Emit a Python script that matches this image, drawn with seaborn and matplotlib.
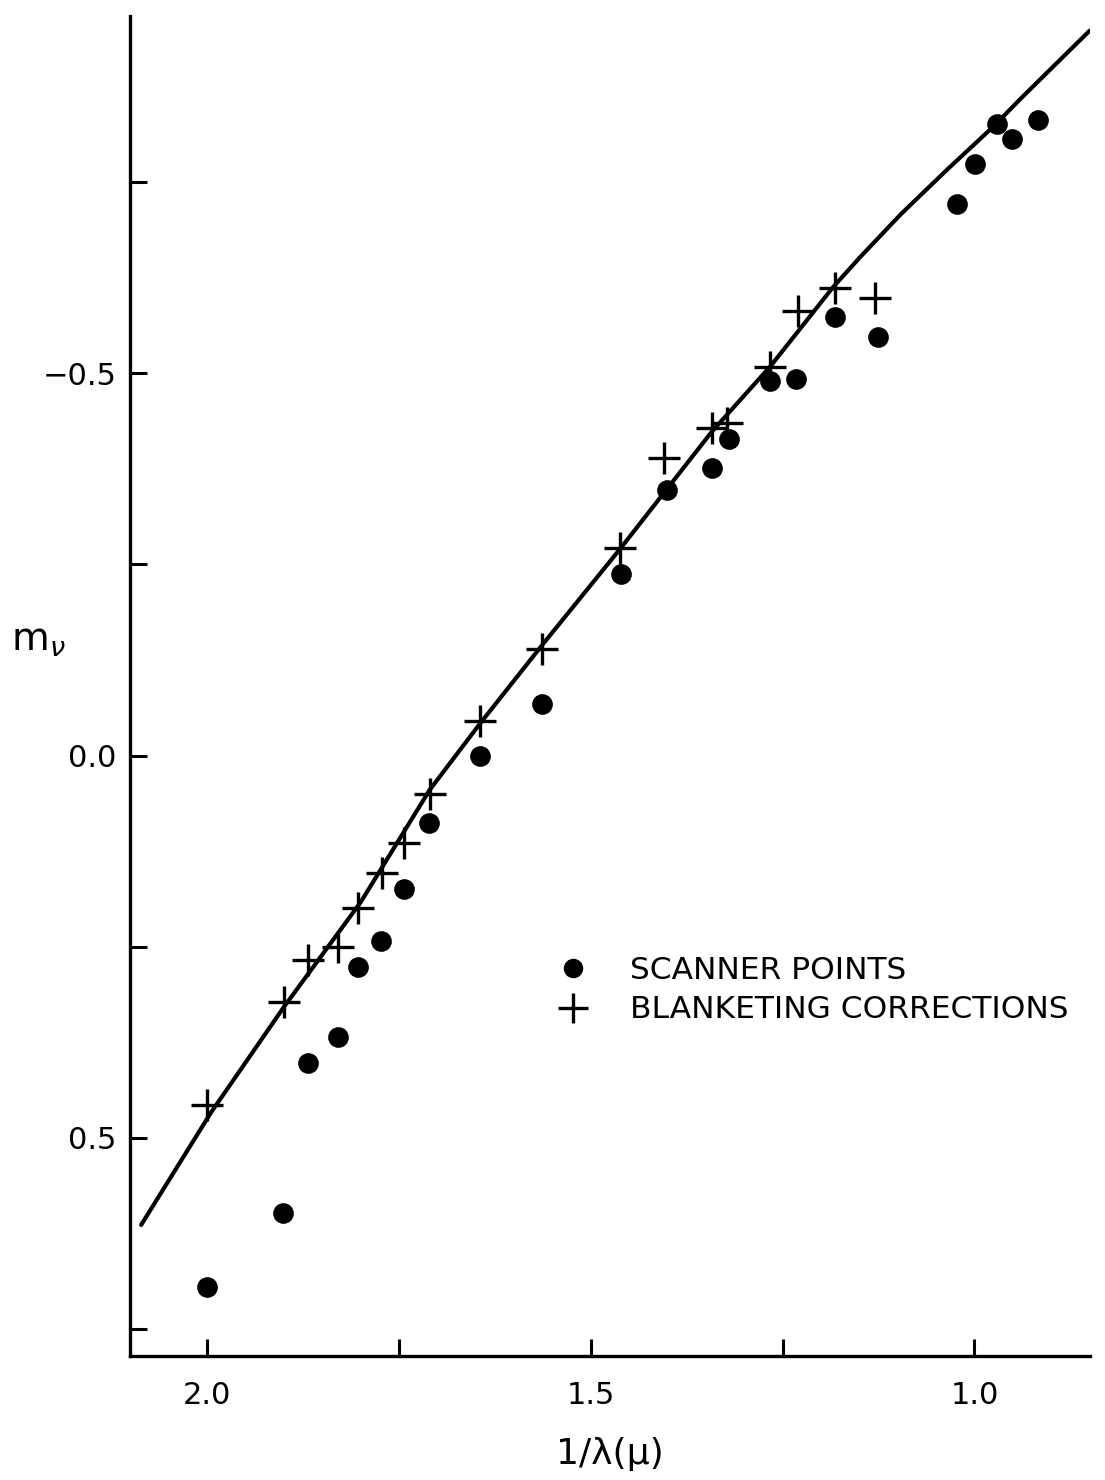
import numpy as np
import pandas as pd
import matplotlib
matplotlib.use('Agg')
import matplotlib.pyplot as plt
import seaborn as sns
from matplotlib.ticker import FixedLocator
from matplotlib.lines import Line2D

# scanner points (1/lambda, m_nu)
scan_x = [2.000, 1.901, 1.868, 1.829, 1.803, 1.773, 1.743, 1.711, 1.645, 1.564,
          1.461, 1.401, 1.342, 1.320, 1.267, 1.232, 1.182, 1.126, 1.023, 0.999,
          0.970, 0.951, 0.917]
scan_y = [0.695, 0.598, 0.402, 0.368, 0.276, 0.243, 0.174, 0.088, 0.001, -0.067,
          -0.237, -0.347, -0.376, -0.414, -0.490, -0.493, -0.573, -0.548, -0.721, -0.774,
          -0.826, -0.806, -0.831]

# blanketing corrections
blank_x = [2.000, 1.900, 1.868, 1.829, 1.803, 1.772, 1.743, 1.710, 1.645, 1.563,
           1.462, 1.404, 1.342, 1.322, 1.267, 1.230, 1.182, 1.129]
blank_y = [0.457, 0.322, 0.267, 0.251, 0.199, 0.153, 0.114, 0.050, -0.045, -0.139,
           -0.272, -0.389, -0.429, -0.435, -0.508, -0.581, -0.611, -0.599]

# drawn curve
curve_x = [2.086, 1.995, 1.900, 1.800, 1.710, 1.645, 1.563, 1.462, 1.342, 1.266,
           1.184, 1.148, 1.096, 1.035, 0.975, 0.940, 0.850]
curve_y = [0.614, 0.467, 0.329, 0.192, 0.045, -0.041, -0.145, -0.270, -0.424, -0.509,
           -0.613, -0.653, -0.708, -0.767, -0.823, -0.859, -0.948]

scan = pd.DataFrame({'x': scan_x, 'y': scan_y})
blank = pd.DataFrame({'x': blank_x, 'y': blank_y})
curve = pd.DataFrame({'x': curve_x, 'y': curve_y})

sns.set_style('ticks')
plt.rcParams['font.family'] = ['DejaVu Sans']
plt.rcParams['text.color'] = 'black'
plt.rcParams['axes.labelcolor'] = 'black'

fig = plt.figure(figsize=(11.05, 14.8), dpi=100)
ax = fig.add_axes([0.118, 0.084, 0.868, 0.905])

sns.lineplot(data=curve, x='x', y='y', sort=False, color='black', linewidth=3, ax=ax)
sns.scatterplot(data=scan, x='x', y='y', marker='o', s=190, color='black',
                edgecolor='black', ax=ax)
sns.scatterplot(data=blank, x='x', y='y', marker='+', s=520, color='black',
                linewidth=2.4, ax=ax)

ax.set_xlim(2.1, 0.85)
ax.set_ylim(0.785, -0.967)

ax.xaxis.set_major_locator(FixedLocator([2.0, 1.5, 1.0]))
ax.xaxis.set_minor_locator(FixedLocator([1.75, 1.25]))
ax.yaxis.set_major_locator(FixedLocator([-0.5, 0.0, 0.5]))
ax.yaxis.set_minor_locator(FixedLocator([-0.75, -0.25, 0.25, 0.75]))
ax.set_xticklabels(['2.0', '1.5', '1.0'])
ax.set_yticklabels(['\u22120.5', '0.0', '0.5'])

ax.tick_params(which='both', direction='in', length=12, width=2.2, colors='black',
               labelsize=22)
ax.tick_params(axis='x', pad=18)
ax.tick_params(axis='y', pad=10)

sns.despine(ax=ax)
for side in ['left', 'bottom']:
    ax.spines[side].set_linewidth(2.4)
    ax.spines[side].set_color('black')

ax.set_xlabel('1/\u03bb(\u03bc)', fontsize=26, labelpad=20)
ax.set_ylabel(r'$\mathrm{m}_\nu$', fontsize=28, rotation=0)
ax.yaxis.set_label_coords(-0.096, 0.52)

handles = [
    Line2D([], [], marker='o', linestyle='none', color='black', markersize=13),
    Line2D([], [], marker='+', linestyle='none', color='black', markersize=22,
           markeredgewidth=2.4),
]
ax.legend(handles, ['SCANNER POINTS', 'BLANKETING CORRECTIONS'], frameon=False,
          fontsize=22.5, loc='center left', bbox_to_anchor=(0.416, 0.273),
          handletextpad=1.32, labelspacing=0.35, handlelength=1.0)

fig.savefig('out.png', dpi=100)
